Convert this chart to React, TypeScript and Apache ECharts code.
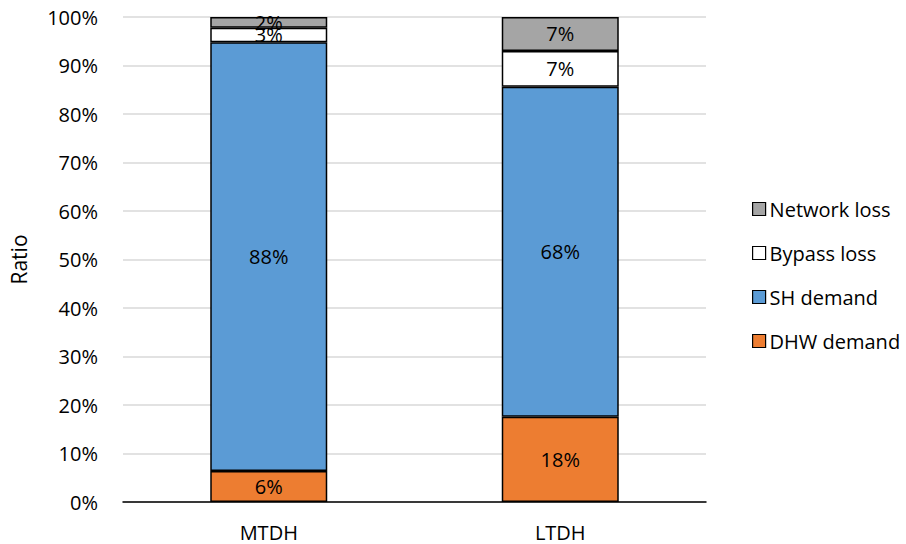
import React, { useEffect, useRef } from "react";
import * as echarts from "echarts";

const categories = ["MTDH", "LTDH"];
const dhwDemand = [6.4, 17.6];
const shDemand = [88.4, 68.0];
const bypassLoss = [3.0, 7.4];
const networkLoss = [2.2, 7.0];
const yTicks = [0, 10, 20, 30, 40, 50, 60, 70, 80, 90, 100];

const FONT = "Open Sans";

export default function App() {
  const ref = useRef<HTMLDivElement>(null);
  useEffect(() => {
    const chart = echarts.init(ref.current!, null, { renderer: "svg" });
    const label = {
      show: true,
      position: "inside",
      color: "#000",
      fontFamily: FONT,
      fontSize: 20,
      formatter: (p: any) => Math.round(p.value) + "%",
    };
    const mk = (name: string, data: number[], color: string) => ({
      name,
      type: "bar",
      stack: "total",
      data,
      barWidth: 117,
      itemStyle: { color, borderColor: "#000", borderWidth: 1.5 },
      label,
    });
    chart.setOption({
      animation: false,
      textStyle: { fontFamily: FONT },
      grid: { left: 120, top: 17, width: 586, height: 485, containLabel: false },
      legend: {
        orient: "vertical",
        left: 747,
        top: 194,
        itemWidth: 13,
        itemHeight: 13,
        itemGap: 24,
        icon: "rect",
        data: ["Network loss", "Bypass loss", "SH demand", "DHW demand"],
        textStyle: { fontFamily: FONT, fontSize: 20, color: "#000", padding: [0, 0, 0, -1] },
        itemStyle: { borderColor: "#000", borderWidth: 1.2 },
      },
      xAxis: {
        type: "category",
        data: categories,
        axisLine: { lineStyle: { color: "#000", width: 1.5 } },
        axisTick: { show: false },
        axisLabel: { color: "#000", fontFamily: FONT, fontSize: 20, margin: 20 },
      },
      yAxis: {
        type: "value",
        min: yTicks[0],
        max: yTicks[yTicks.length - 1],
        interval: 10,
        name: "Ratio",
        nameLocation: "middle",
        nameGap: 94,
        nameTextStyle: { color: "#000", fontFamily: FONT, fontSize: 21 },
        axisLine: { show: false },
        axisTick: { show: false },
        axisLabel: { color: "#000", fontFamily: FONT, fontSize: 20, margin: 25, formatter: "{value}%" },
        splitLine: { lineStyle: { color: "#D9D9D9", width: 1.5 } },
      },
      series: [
        mk("DHW demand", dhwDemand, "#ED7D31"),
        mk("SH demand", shDemand, "#5B9BD5"),
        mk("Bypass loss", bypassLoss, "#FFFFFF"),
        mk("Network loss", networkLoss, "#A5A5A5"),
      ],
    });
    return () => chart.dispose();
  }, []);
  return (
    <div
      ref={ref}
      style={{ position: "fixed", left: 0, top: 0, width: 906, height: 544, background: "#fff" }}
    />
  );
}
